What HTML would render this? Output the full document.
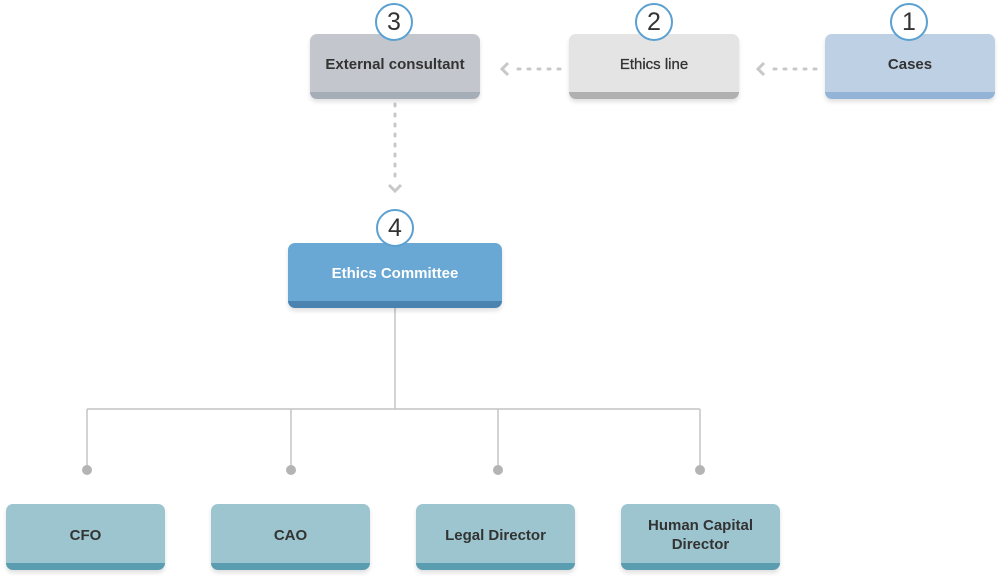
<!DOCTYPE html>
<html><head><style>
body{margin:0;width:1000px;height:580px;background:#fff;position:relative;overflow:hidden;font-family:"Liberation Sans",sans-serif}
.b{position:absolute;border-radius:7px;display:flex;align-items:center;justify-content:center;text-align:center;font-size:15px;font-weight:bold;color:#333;box-sizing:border-box;box-shadow:0 3px 4px rgba(0,0,0,.12);padding-top:3px}
.c{position:absolute;width:38px;height:38px;border:2px solid #5ba0d0;border-radius:50%;background:#fff;font-size:25px;color:#333;display:flex;align-items:center;justify-content:center;box-sizing:border-box}
</style></head><body>
<svg width="1000" height="580" style="position:absolute;left:0;top:0">
<g stroke="#c8c8c8" stroke-width="3" stroke-dasharray="2 8" stroke-linecap="round" fill="none">
<line x1="560" y1="69" x2="510" y2="69"/>
<line x1="816" y1="69" x2="766" y2="69"/>
<line x1="395" y1="104" x2="395" y2="182"/>
</g>
<g stroke="#c8c8c8" stroke-width="3" fill="none">
<polyline points="508,63 502,69 508,75"/>
<polyline points="764,63 758,69 764,75"/>
<polyline points="389,185 395,191 401,185"/>
</g>
<g stroke="#c4c4c4" stroke-width="1.5" fill="none">
<line x1="395" y1="307" x2="395" y2="409"/>
<line x1="87" y1="409" x2="700" y2="409"/>
<line x1="87" y1="409" x2="87" y2="469"/>
<line x1="291" y1="409" x2="291" y2="469"/>
<line x1="498" y1="409" x2="498" y2="469"/>
<line x1="700" y1="409" x2="700" y2="469"/>
</g>
<g fill="#b4b4b4"><circle cx="87" cy="470" r="5"/><circle cx="291" cy="470" r="5"/><circle cx="498" cy="470" r="5"/><circle cx="700" cy="470" r="5"/></g>
</svg>
<div class="b" style="left:310px;top:34px;width:170px;height:65px;background:#c3c7cd;border-bottom:7px solid #a5adb6">External consultant</div>
<div class="b" style="left:569px;top:34px;width:170px;height:65px;background:#e4e4e4;border-bottom:7px solid #b0b0b0;font-weight:normal;-webkit-text-stroke:.3px #333">Ethics line</div>
<div class="b" style="left:825px;top:34px;width:170px;height:65px;background:#bed0e3;border-bottom:7px solid #93b4d6">Cases</div>
<div class="b" style="left:288px;top:243px;width:214px;height:65px;background:#69a7d4;border-bottom:7px solid #4b83b0;color:#fff">Ethics Committee</div>
<div class="b" style="left:6px;top:504px;width:159px;height:66px;background:#9cc5cf;border-bottom:7px solid #5a9db0">CFO</div>
<div class="b" style="left:211px;top:504px;width:159px;height:66px;background:#9cc5cf;border-bottom:7px solid #5a9db0">CAO</div>
<div class="b" style="left:416px;top:504px;width:159px;height:66px;background:#9cc5cf;border-bottom:7px solid #5a9db0">Legal Director</div>
<div class="b" style="left:621px;top:504px;width:159px;height:66px;background:#9cc5cf;border-bottom:7px solid #5a9db0;line-height:19px">Human Capital<br>Director</div>
<div class="c" style="left:375px;top:3px">3</div>
<div class="c" style="left:635px;top:3px">2</div>
<div class="c" style="left:890px;top:3px">1</div>
<div class="c" style="left:376px;top:209px">4</div>
</body></html>
